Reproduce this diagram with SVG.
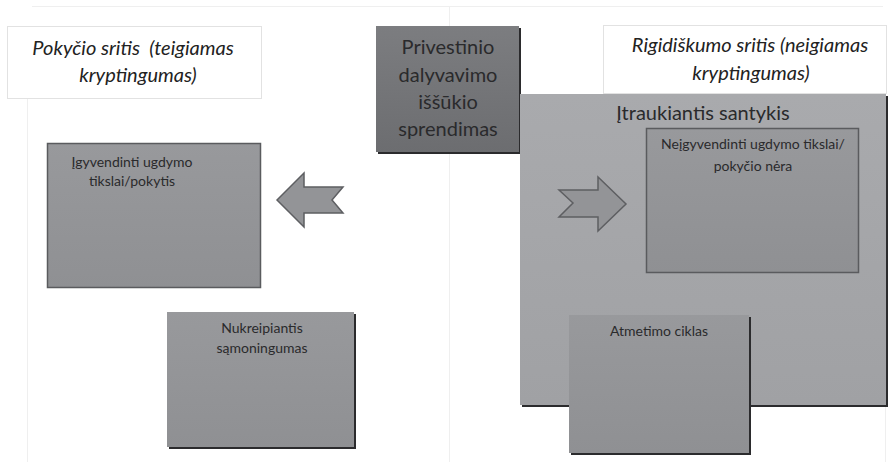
<svg xmlns="http://www.w3.org/2000/svg" width="893" height="462" viewBox="0 0 893 462">
<style>
.t{font-family:Lato,"Open Sans","Liberation Sans",sans-serif;fill:#2a2a2c;text-anchor:middle;white-space:pre}
.ti{font-style:italic;font-size:20px;fill:#222}
.title{fill:#fff;stroke:#e2e2e2;stroke-width:1}
.box{stroke:#5a5b5e;stroke-width:1.5}
.sh{fill:#2b2b2d}
.arrow{fill:#939497;stroke:#5e5f62;stroke-width:1.5;stroke-linejoin:miter}
.faint{stroke:#efefef;stroke-width:1;fill:none}
</style>
<defs>
<linearGradient id="gDark" x1="0" y1="0" x2="0" y2="1"><stop offset="0" stop-color="#7c7d80"/><stop offset="1" stop-color="#6c6d70"/></linearGradient>
<linearGradient id="gBig" x1="0" y1="0" x2="0" y2="1"><stop offset="0" stop-color="#a9aaad"/><stop offset="1" stop-color="#a0a1a4"/></linearGradient>
<linearGradient id="gMid" x1="0" y1="0" x2="0" y2="1"><stop offset="0" stop-color="#98999c"/><stop offset="1" stop-color="#8f9093"/></linearGradient>
</defs>
<rect width="893" height="462" fill="#fff"/>
<g id="guides">
<line class="faint" x1="32" y1="6.5" x2="883" y2="6.5"/>
<line class="faint" x1="27.5" y1="26" x2="27.5" y2="462"/>
<line class="faint" x1="449.5" y1="6" x2="449.5" y2="462"/>
<line class="faint" x1="885.5" y1="26" x2="885.5" y2="462"/>
</g>
<g id="left-title">
<rect class="title" x="7.5" y="26.5" width="254" height="72"/>
<text class="t ti" x="133" y="55" xml:space="preserve">Pokyčio sritis  (teigiamas</text>
<text class="t ti" x="138" y="82">kryptingumas)</text>
</g>
<g id="right-title">
<rect class="title" x="603.5" y="25.5" width="283" height="68"/>
<text class="t ti" x="750" y="52">Rigidiškumo sritis (neigiamas</text>
<text class="t ti" x="751" y="80">kryptingumas)</text>
</g>
<g id="center">
<rect class="sh" x="378" y="28" width="143" height="126"/>
<rect x="376" y="26" width="143" height="126" fill="url(#gDark)"/>
<text class="t" font-size="20" x="448" y="54">Privestinio</text>
<text class="t" font-size="20" x="448" y="82">dalyvavimo</text>
<text class="t" font-size="20" x="448" y="109">iššūkio</text>
<text class="t" font-size="20" x="448" y="136">sprendimas</text>
</g>
<g id="rigid-area">
<rect class="sh" x="522" y="96" width="366" height="311"/>
<rect x="520" y="94" width="366" height="311" fill="url(#gBig)"/>
<text class="t" font-size="20" x="703" y="120">Įtraukiantis santykis</text>
</g>
<g id="unrealized">
<rect class="box" x="646.5" y="128.5" width="212" height="144" fill="url(#gMid)"/>
<text class="t" font-size="14" x="753" y="149">Neįgyvendinti ugdymo tikslai/</text>
<text class="t" font-size="14" x="753" y="171">pokyčio nėra</text>
</g>
<g id="realized">
<rect class="box" x="47.5" y="143.5" width="213" height="144" fill="url(#gMid)"/>
<text class="t" font-size="14" x="132" y="167">Įgyvendinti ugdymo</text>
<text class="t" font-size="14" x="132" y="186">tikslai/pokytis</text>
</g>
<g id="awareness">
<rect class="sh" x="169" y="314" width="187" height="135"/>
<rect x="167" y="312" width="187" height="135" fill="url(#gMid)"/>
<text class="t" font-size="14" x="262" y="333">Nukreipiantis</text>
<text class="t" font-size="14" x="262" y="353">sąmoningumas</text>
</g>
<g id="rejection">
<rect class="sh" x="571" y="317" width="180" height="138"/>
<rect x="569" y="315" width="180" height="138" fill="url(#gMid)"/>
<text class="t" font-size="14" x="659" y="336">Atmetimo ciklas</text>
</g>
<g id="connectors">
<polygon class="arrow" points="277,200 304,173 304,187 343,187 332,200 343,213 304,213 304,227"/>
<polygon class="arrow" points="559,190 598,190 598,177 626,204 598,231 598,217 559,217 573,203"/>
</g>
</svg>
